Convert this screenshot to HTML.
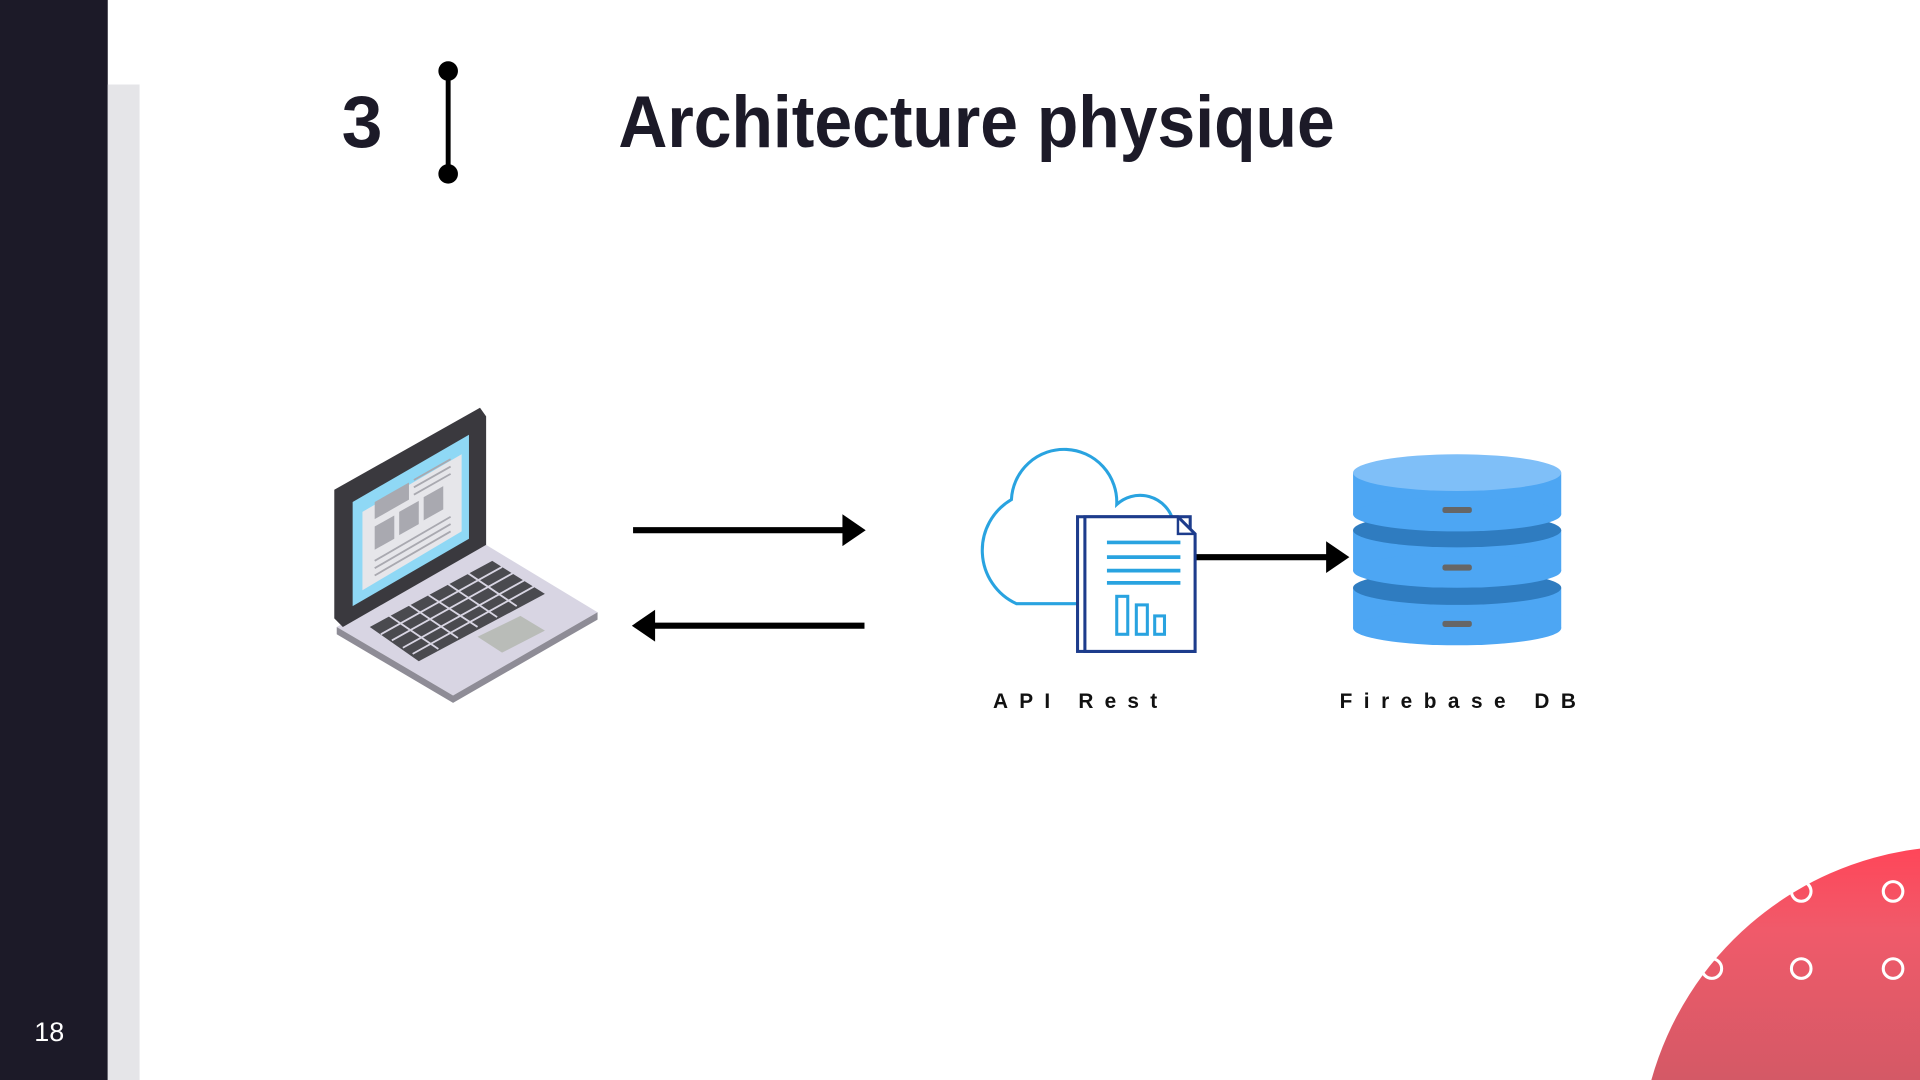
<!DOCTYPE html>
<html><head><meta charset="utf-8"><style>
html,body{margin:0;padding:0;background:#fff;width:1920px;height:1080px;overflow:hidden}
svg{display:block;overflow:hidden}
</style></head><body>
<svg width="1920" height="1080" viewBox="0 0 1568 882" xmlns="http://www.w3.org/2000/svg" font-family="'Liberation Sans', sans-serif">
<defs>
<linearGradient id="rg" x1="0" y1="0" x2="0" y2="1">
<stop offset="0" stop-color="#ff4659"/><stop offset="0.35" stop-color="#f05a6a"/><stop offset="1" stop-color="#d45966"/>
</linearGradient>
</defs>
<rect x="0" y="0" width="88" height="882" fill="#1c1a28"/>
<rect x="88" y="69" width="26" height="813" fill="#e5e5e8"/>
<text x="28" y="850" font-size="22" fill="#fff">18</text>
<text x="279" y="120" font-size="60" font-weight="bold" fill="#1c1a28">3</text>
<line x1="366" y1="58" x2="366" y2="142" stroke="#000" stroke-width="4"/>
<circle cx="366" cy="58" r="8" fill="#000"/><circle cx="366" cy="142" r="8" fill="#000"/>
<text x="505" y="120" font-size="60" font-weight="bold" fill="#1c1a28" textLength="585" lengthAdjust="spacingAndGlyphs">Architecture physique</text>

<path d="M1348.6,882 A261,261 0 0 1 1568,693 V882 Z" fill="url(#rg)"/>
<g fill="none" stroke="#fff" stroke-width="2.5">
<circle cx="1471" cy="728" r="8"/><circle cx="1546" cy="728" r="8"/>
<circle cx="1398" cy="791" r="8"/><circle cx="1471" cy="791" r="8"/><circle cx="1546" cy="791" r="8"/>
</g>

<polygon points="275,512 397,445 488,500 370,568" fill="#d8d5e3"/>
<polygon points="275,512 370,568 488,500 488,506 370,574 275,518" fill="#8e8c96"/>
<polygon points="273,400 392,333 397,340 397,445 280,512 273,505" fill="#3a393e"/>
<polygon points="288,410 383,355 383,440 288,495" fill="#8fd8f5"/>
<polygon points="296,418 377,371 377,434 296,482" fill="#e6e6ea"/>
<g fill="#a9a9b0">
<polygon points="306,410 334,394 334,408 306,424"/>
<polygon points="306,430 322,421 322,440 306,449"/>
<polygon points="326,418 342,409 342,428 326,437"/>
<polygon points="346,406 362,397 362,416 346,425"/>
</g>
<g stroke="#a9a9b0" stroke-width="1.5">
<line x1="338" y1="392" x2="368" y2="375"/><line x1="338" y1="398" x2="368" y2="381"/><line x1="338" y1="404" x2="368" y2="387"/>
<line x1="306" y1="458" x2="368" y2="422"/><line x1="306" y1="464" x2="368" y2="428"/><line x1="306" y1="470" x2="368" y2="434"/>
</g>
<polygon points="302,512 402,458 445,485 342,540" fill="#4a4a4f"/>
<g stroke="#d8d5e3" stroke-width="1.5">
<line x1="311" y1="518" x2="410" y2="463"/><line x1="320" y1="523" x2="419" y2="468"/><line x1="329" y1="529" x2="428" y2="474"/><line x1="337" y1="534" x2="436" y2="479"/>
<line x1="318" y1="503" x2="358" y2="530"/><line x1="334" y1="494" x2="374" y2="521"/><line x1="350" y1="486" x2="390" y2="512"/><line x1="366" y1="477" x2="406" y2="504"/><line x1="382" y1="468" x2="422" y2="495"/>
</g>
<polygon points="390,520 425,503 445,515 410,533" fill="#b9bcb8"/>

<line x1="517" y1="433" x2="693" y2="433" stroke="#000" stroke-width="5"/>
<polygon points="688,420 707,433 688,446" fill="#000"/>
<line x1="530" y1="511" x2="706" y2="511" stroke="#000" stroke-width="5"/>
<polygon points="535,498 516,511 535,524" fill="#000"/>
<line x1="976" y1="455" x2="1088" y2="455" stroke="#000" stroke-width="5"/>
<polygon points="1083,442 1102,455 1083,468" fill="#000"/>

<path d="M880,493 H830 A48,48 0 0 1 826,408 A43,43 0 0 1 912,412 A28,28 0 0 1 958,425" fill="none" stroke="#29a3e0" stroke-width="2.5"/>
<rect x="880" y="422" width="92" height="110" fill="#fff" stroke="#1d3c8c" stroke-width="2.5"/>
<path d="M886,422 H962 L976,436 V532 H886 Z" fill="#fff" stroke="#1d3c8c" stroke-width="2.5"/>
<path d="M962,422 V436 H976" fill="none" stroke="#1d3c8c" stroke-width="2"/>
<g stroke="#29a3e0" stroke-width="3">
<line x1="904" y1="443" x2="964" y2="443"/><line x1="904" y1="455" x2="964" y2="455"/><line x1="904" y1="466" x2="964" y2="466"/><line x1="904" y1="476" x2="964" y2="476"/>
</g>
<g fill="none" stroke="#29a3e0" stroke-width="2.5">
<rect x="912" y="487" width="9" height="31"/><rect x="928" y="494" width="9" height="24"/><rect x="943" y="503" width="8" height="15"/>
</g>

<rect x="1105" y="480" width="170" height="33" fill="#4da6f3"/><ellipse cx="1190" cy="513" rx="85" ry="14" fill="#4da6f3"/>
<ellipse cx="1190" cy="480" rx="85" ry="14" fill="#2f7cc0"/>
<rect x="1105" y="433" width="170" height="33" fill="#4da6f3"/><ellipse cx="1190" cy="466" rx="85" ry="14" fill="#4da6f3"/>
<ellipse cx="1190" cy="433" rx="85" ry="14" fill="#2f7cc0"/>
<rect x="1105" y="386" width="170" height="34" fill="#4da6f3"/><ellipse cx="1190" cy="420" rx="85" ry="14" fill="#4da6f3"/>
<ellipse cx="1190" cy="386" rx="85" ry="15" fill="#7fbff8"/>
<g fill="#666"><rect x="1178" y="414" width="24" height="5" rx="2"/><rect x="1178" y="461" width="24" height="5" rx="2"/><rect x="1178" y="507" width="24" height="5" rx="2"/></g>

<text x="811" y="578" font-size="17" font-weight="bold" fill="#111" textLength="134" lengthAdjust="spacing">API Rest</text>
<text x="1094" y="578" font-size="17" font-weight="bold" fill="#111" textLength="193" lengthAdjust="spacing">Firebase DB</text>
</svg>
</body></html>
